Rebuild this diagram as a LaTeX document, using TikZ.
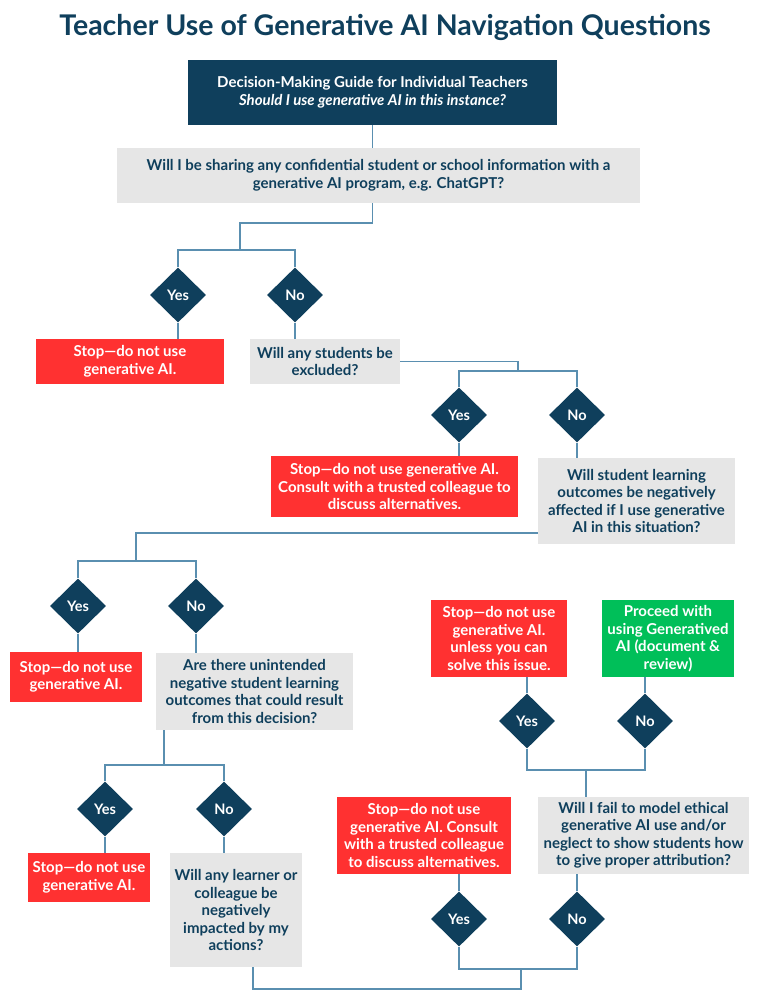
\documentclass[tikz,border=0pt]{standalone}
\usepackage{fontspec}
\setmainfont{Lato}
\usetikzlibrary{shapes.geometric}

\definecolor{navy}{HTML}{0F3F5C}
\definecolor{stopred}{HTML}{FF3131}
\definecolor{qgrey}{HTML}{E6E6E6}
\definecolor{gogreen}{HTML}{00BF59}
\definecolor{linkblue}{HTML}{5A8FB0}

\begin{document}
\begin{tikzpicture}[x=1pt, y=-1pt]
\tikzset{
  box/.style={rectangle, align=center, inner sep=2pt,
    font=\bfseries\fontsize{15}{17.5}\selectfont},
  guidebox/.style={box, fill=navy, text=white},
  question/.style={box, fill=qgrey, text=navy},
  stopbox/.style={box, fill=stopred, text=white},
  gobox/.style={box, fill=gogreen, text=white},
  choice/.style={diamond, fill=navy, text=white, minimum width=56pt, minimum height=55pt,
    inner sep=0pt, font=\bfseries\fontsize{14.5}{16}\selectfont},
  link/.style={draw=linkblue, line width=1.3pt}
}
\useasboundingbox (0,0) rectangle (770,1000);

\node[text=navy, font=\bfseries\fontsize{28.5}{32}\selectfont] (title) at (385,27) {Teacher Use of Generative AI Navigation Questions};

\node[guidebox, minimum width=369pt, minimum height=65pt] (guide) at (372.5,92.5)
  {Decision-Making Guide for Individual Teachers\\\textit{Should I use generative AI in this instance?}};
\node[question, minimum width=523pt, minimum height=55pt] (q1) at (378.5,175.5)
  {Will I be sharing any confidential student or school information with a\\generative AI program, e.g. ChatGPT?};

\node[choice] (d1y) at (178,295) {Yes};
\node[choice] (d1n) at (295,295) {No};
\node[stopbox, minimum width=188pt, minimum height=45pt] (stop1) at (130,361.5) {Stop---do not use\\generative AI.};
\node[question, minimum width=150pt, minimum height=45pt] (q2) at (325,361.5) {Will any students be\\excluded?};

\node[choice] (d2y) at (459,415) {Yes};
\node[choice] (d2n) at (577,415) {No};
\node[stopbox, minimum width=247pt, minimum height=61pt] (stop2) at (394.5,486.5)
  {Stop---do not use generative AI.\\Consult with a trusted colleague to\\discuss alternatives.};
\node[question, minimum width=197pt, minimum height=86pt] (q3) at (636.5,501)
  {Will student learning\\outcomes be negatively\\affected if I use generative\\AI in this situation?};

\node[choice] (d3y) at (78,606) {Yes};
\node[choice] (d3n) at (196,606) {No};
\node[stopbox, minimum width=132pt, minimum height=50pt] (stop3) at (76,677) {Stop---do not use\\generative AI.};
\node[question, minimum width=197pt, minimum height=77pt] (q4) at (254.5,691.5)
  {Are there unintended\\negative student learning\\outcomes that could result\\from this decision?};

\node[choice] (d4y) at (105,809) {Yes};
\node[choice] (d4n) at (224,809) {No};
\node[stopbox, minimum width=122pt, minimum height=49pt] (stop4) at (89,877.5) {Stop---do not use\\generative AI.};
\node[question, minimum width=132pt, minimum height=114pt] (q5) at (236,910)
  {Will any learner or\\colleague be\\negatively\\impacted by my\\actions?};

\node[choice] (d5y) at (459,919) {Yes};
\node[choice] (d5n) at (577,919) {No};
\node[stopbox, minimum width=174pt, minimum height=77pt] (stop5) at (424,835.5)
  {Stop---do not use\\generative AI. Consult\\with a trusted colleague\\to discuss alternatives.};
\node[question, minimum width=211pt, minimum height=77pt] (q6) at (643.5,835.5)
  {Will I fail to model ethical\\generative AI use and/or\\neglect to show students how\\to give proper attribution?};

\node[choice] (d6y) at (527,721) {Yes};
\node[choice] (d6n) at (645,721) {No};
\node[stopbox, minimum width=136pt, minimum height=77pt] (stop6) at (499,638.5)
  {Stop---do not use\\generative AI.\\unless you can\\solve this issue.};
\node[gobox, minimum width=132pt, minimum height=77pt] (proceed) at (668,638.5)
  {Proceed with\\using Generatived\\AI (document \&\\review)};

\coordinate (k1) at (240,223);
\coordinate (f1) at (240,250);
\coordinate (f2) at (518,371);
\coordinate (k3) at (136,533);
\coordinate (f3) at (136,561);
\coordinate (f4) at (164,765);
\coordinate (k5) at (253,989);
\coordinate (f5) at (521,969);
\coordinate (f6) at (586,770);

\draw[link] (guide.south) -- (guide.south |- q1.north);
\draw[link] (guide.south |- q1.south) -- (guide.south |- k1) -| (f1);
\draw[link] (d1y.north) |- (f1) -| (d1n.north);
\draw[link] (d1y.south) -- (d1y.south |- stop1.north);
\draw[link] (d1n.south) -- (d1n.south |- q2.north);

\draw[link] (q2.east) -| (f2);
\draw[link] (d2y.north) |- (f2) -| (d2n.north);
\draw[link] (d2y.south) -- (d2y.south |- stop2.north);
\draw[link] (d2n.south) -- (d2n.south |- q3.north);

\draw[link] (k3 -| q3.west) -- (k3) -- (f3);
\draw[link] (d3y.north) |- (f3) -| (d3n.north);
\draw[link] (d3y.south) -- (d3y.south |- stop3.north);
\draw[link] (d3n.south) -- (d3n.south |- q4.north);

\draw[link] (f4 |- q4.south) -- (f4);
\draw[link] (d4y.north) |- (f4) -| (d4n.north);
\draw[link] (d4y.south) -- (d4y.south |- stop4.north);
\draw[link] (d4n.south) -- (d4n.south |- q5.north);

\draw[link] (k5 |- q5.south) -- (k5) -| (f5);
\draw[link] (d5y.south) |- (f5) -| (d5n.south);
\draw[link] (d5y.north) -- (d5y.north |- stop5.south);
\draw[link] (d5n.north) -- (d5n.north |- q6.south);

\draw[link] (f6 |- q6.north) -- (f6);
\draw[link] (d6y.south) |- (f6) -| (d6n.south);
\draw[link] (d6y.north) -- (d6y.north |- stop6.south);
\draw[link] (d6n.north) -- (d6n.north |- proceed.south);
\end{tikzpicture}
\end{document}
